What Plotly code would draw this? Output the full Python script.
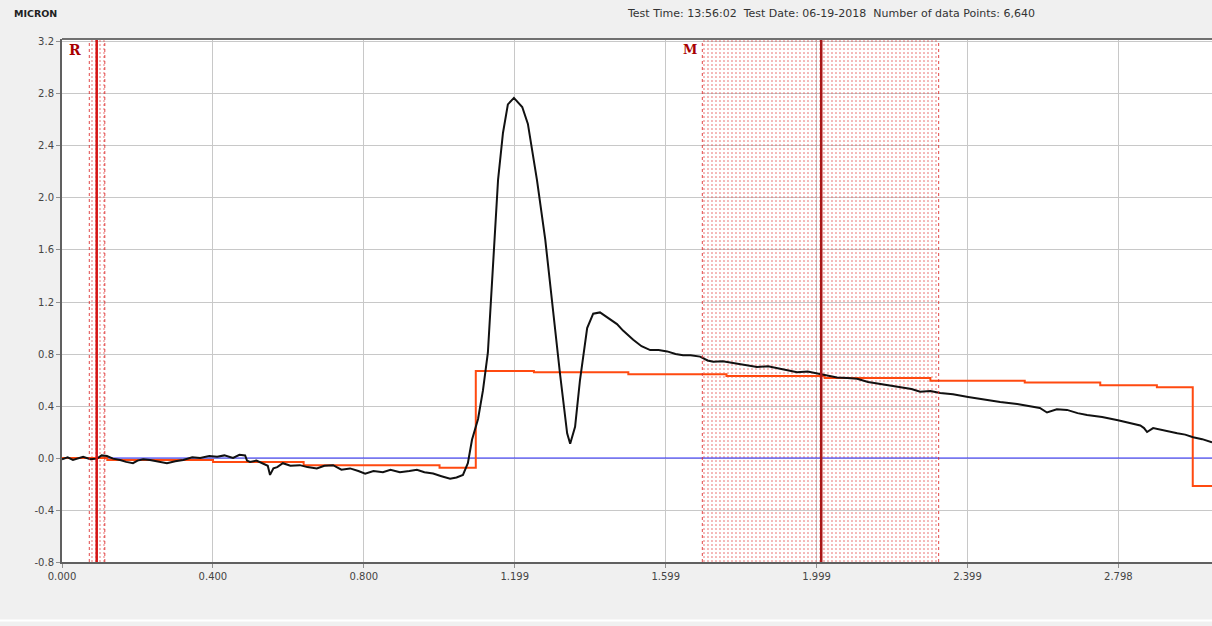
import plotly.graph_objects as go

# ---- data ----
black_x = [0.000, 0.015, 0.029, 0.042, 0.056, 0.075, 0.093, 0.105, 0.119, 0.135, 0.154, 0.170,
           0.188, 0.200, 0.215, 0.233, 0.255, 0.278, 0.300, 0.321, 0.345, 0.366,
           0.390, 0.411, 0.430, 0.453, 0.470, 0.485, 0.490, 0.498, 0.515, 0.532, 0.545, 0.551,
           0.560, 0.570, 0.585, 0.605, 0.630, 0.650, 0.675, 0.695, 0.718, 0.740, 0.763,
           0.785, 0.803, 0.825, 0.850, 0.870, 0.895, 0.920, 0.940, 0.960, 0.983, 1.005, 1.028,
           1.045, 1.062, 1.075, 1.086, 1.102, 1.115, 1.128,
           1.142, 1.155, 1.168, 1.181, 1.197, 1.219, 1.234, 1.258, 1.280, 1.301, 1.319, 1.338,
           1.346, 1.359, 1.372, 1.391, 1.407, 1.425, 1.452, 1.470, 1.486, 1.500, 1.513, 1.535,
           1.558, 1.580, 1.603, 1.625, 1.645, 1.665,
           1.690, 1.710, 1.725, 1.750, 1.778, 1.810, 1.841, 1.870, 1.894, 1.920, 1.947, 1.975,
           2.008, 2.030, 2.053, 2.080, 2.106, 2.135, 2.167, 2.195, 2.220, 2.250, 2.273, 2.300,
           2.326, 2.360, 2.400, 2.440, 2.485, 2.530, 2.572, 2.590, 2.609, 2.635, 2.662, 2.690,
           2.715, 2.755, 2.797, 2.830, 2.856, 2.866, 2.874, 2.890, 2.920, 2.954,
           2.975, 2.996, 3.020, 3.046]
black_y = [-0.01, 0.005, -0.015, 0.0, 0.01, -0.01, -0.005, 0.02, 0.015, -0.005, -0.015, -0.03,
           -0.04, -0.02, -0.01, -0.015, -0.03, -0.04, -0.025, -0.015, 0.005, 0.0,
           0.015, 0.01, 0.02, 0.0, 0.025, 0.02, -0.02, -0.03, -0.02, -0.04, -0.06, -0.13,
           -0.08, -0.07, -0.04, -0.06, -0.055, -0.07, -0.08, -0.06, -0.055, -0.09, -0.08,
           -0.10, -0.12, -0.10, -0.11, -0.09, -0.11, -0.10, -0.09, -0.11, -0.12, -0.14, -0.16,
           -0.15, -0.13, -0.04, 0.14, 0.30, 0.52, 0.81,
           1.47, 2.14, 2.50, 2.72, 2.77, 2.70, 2.57, 2.14, 1.68, 1.12, 0.65, 0.19,
           0.11, 0.24, 0.60, 1.00, 1.11, 1.12, 1.07, 1.03, 0.98, 0.94, 0.91, 0.86,
           0.83, 0.83, 0.82, 0.80, 0.79, 0.79,
           0.78, 0.75, 0.74, 0.745, 0.73, 0.715, 0.70, 0.705, 0.69, 0.675, 0.66, 0.665,
           0.645, 0.63, 0.62, 0.615, 0.61, 0.585, 0.57, 0.555, 0.54, 0.53, 0.51, 0.515,
           0.50, 0.49, 0.47, 0.45, 0.43, 0.415, 0.39, 0.385, 0.35, 0.375, 0.37, 0.345,
           0.33, 0.315, 0.29, 0.27, 0.25, 0.23, 0.20, 0.23, 0.21, 0.19,
           0.18, 0.16, 0.145, 0.12]

orange_x = [0.0, 0.12, 0.40, 0.64, 1.00, 1.096, 1.25, 1.50, 1.76, 2.02, 2.30, 2.55, 2.75, 2.90, 2.995, 3.05]
orange_y = [0.0, -0.015, -0.03, -0.055, -0.075, 0.67, 0.66, 0.645, 0.63, 0.615, 0.595, 0.58, 0.56, 0.545, -0.215, -0.215]

baseline_x = [0.0, 3.05]
baseline_y = [0.0, 0.0]

# cursor regions: (left edge, cursor, right edge)
r_region = [0.0723, 0.0919, 0.1134]
m_region = [1.696, 2.011, 2.322]

x_tickvals = [0.0, 0.3997, 0.7995, 1.1992, 1.599, 1.9987, 2.3984, 2.798]
x_ticktext = ["0.000", "0.400", "0.800", "1.199", "1.599", "1.999", "2.399", "2.798"]
y_tickvals = [-0.8, -0.4, 0.0, 0.4, 0.8, 1.2, 1.6, 2.0, 2.4, 2.8, 3.2]
y_ticktext = ["-0.8", "-0.4", "0.0", "0.4", "0.8", "1.2", "1.6", "2.0", "2.4", "2.8", "3.2"]

X_RANGE = [0.0, 3.046]
Y_RANGE = [-0.8, 3.223]

fig = go.Figure()

# dotted shaded regions
for reg in (r_region, m_region):
    fig.add_trace(go.Bar(
        x=[(reg[0] + reg[2]) / 2], y=[Y_RANGE[1] - Y_RANGE[0]], base=[Y_RANGE[0]],
        width=[reg[2] - reg[0]],
        marker=dict(color="rgba(0,0,0,0)", line=dict(width=0),
                    pattern=dict(shape=".", size=4, solidity=0.12, fillmode="overlay",
                                 fgcolor="rgb(228,70,70)", bgcolor="rgba(0,0,0,0)",
                                 fgopacity=0.9)),
        hoverinfo="skip", showlegend=False))

fig.add_trace(go.Scatter(x=baseline_x, y=baseline_y, mode="lines",
                         line=dict(color="#2c2cff", width=1), showlegend=False))
fig.add_trace(go.Scatter(x=orange_x, y=orange_y, mode="lines", line_shape="hv",
                         line=dict(color="#ff4a10", width=2), showlegend=False))
fig.add_trace(go.Scatter(x=black_x, y=black_y, mode="lines",
                         line=dict(color="#111111", width=2), showlegend=False))

shapes = []
for reg, solid_col in ((r_region, "#d41414"), (m_region, "#a81818")):
    for xe in (reg[0], reg[2]):
        shapes.append(dict(type="line", xref="x", yref="y", x0=xe, x1=xe,
                           y0=Y_RANGE[0], y1=Y_RANGE[1],
                           line=dict(color="rgba(220,40,40,0.85)", width=1, dash="dot")))
    shapes.append(dict(type="line", xref="x", yref="y", x0=reg[1], x1=reg[1],
                       y0=Y_RANGE[0], y1=Y_RANGE[1],
                       line=dict(color=solid_col, width=2.5)))
# top border of plot
shapes.append(dict(type="line", xref="paper", yref="paper", x0=0, x1=1, y0=1, y1=1,
                   line=dict(color="#707070", width=2)))
# light strip near bottom of window
shapes.append(dict(type="line", xref="paper", yref="paper", x0=-0.06, x1=1, y0=-0.112, y1=-0.112,
                   line=dict(color="#ffffff", width=2)))

annotations = [
    dict(text="<b>MICRON</b>", xref="paper", yref="paper", x=-0.0435, y=1.048,
         xanchor="left", yanchor="middle", showarrow=False,
         font=dict(family="DejaVu Sans", size=9.5, color="#222222")),
    dict(text="Test Time: 13:56:02  Test Date: 06-19-2018  Number of data Points: 6,640",
         xref="paper", yref="paper", x=0.6687, y=1.048, xanchor="center", yanchor="middle",
         showarrow=False, font=dict(family="DejaVu Sans", size=11, color="#333333")),
    dict(text="<b>R</b>", xref="x", yref="y", x=0.034, y=3.14, showarrow=False,
         font=dict(family="DejaVu Serif", size=14, color="#a80000")),
    dict(text="<b>M</b>", xref="x", yref="y", x=1.664, y=3.14, showarrow=False,
         font=dict(family="DejaVu Serif", size=13, color="#a80000")),
]

fig.update_layout(
    width=1212, height=626,
    margin=dict(l=62, r=0, t=39, b=64),
    paper_bgcolor="#f0f0f0", plot_bgcolor="#ffffff",
    bargap=0, barmode="overlay",
    shapes=shapes, annotations=annotations,
    font=dict(family="DejaVu Sans", size=10, color="#444444"),
    xaxis=dict(range=X_RANGE, tickvals=x_tickvals, ticktext=x_ticktext,
               showgrid=True, gridcolor="#c8c8c8", gridwidth=1, zeroline=False,
               showline=True, linecolor="#606060", linewidth=2,
               ticks="outside", ticklen=4, tickcolor="#909090"),
    yaxis=dict(range=Y_RANGE, tickvals=y_tickvals, ticktext=y_ticktext,
               showgrid=True, gridcolor="#c8c8c8", gridwidth=1, zeroline=False,
               showline=True, linecolor="#606060", linewidth=2,
               ticks="outside", ticklen=4, tickcolor="#909090"),
)

fig.write_html("out.html", config={"displayModeBar": False},
               post_script="document.body.style.margin='0';document.body.style.overflow='hidden';")
